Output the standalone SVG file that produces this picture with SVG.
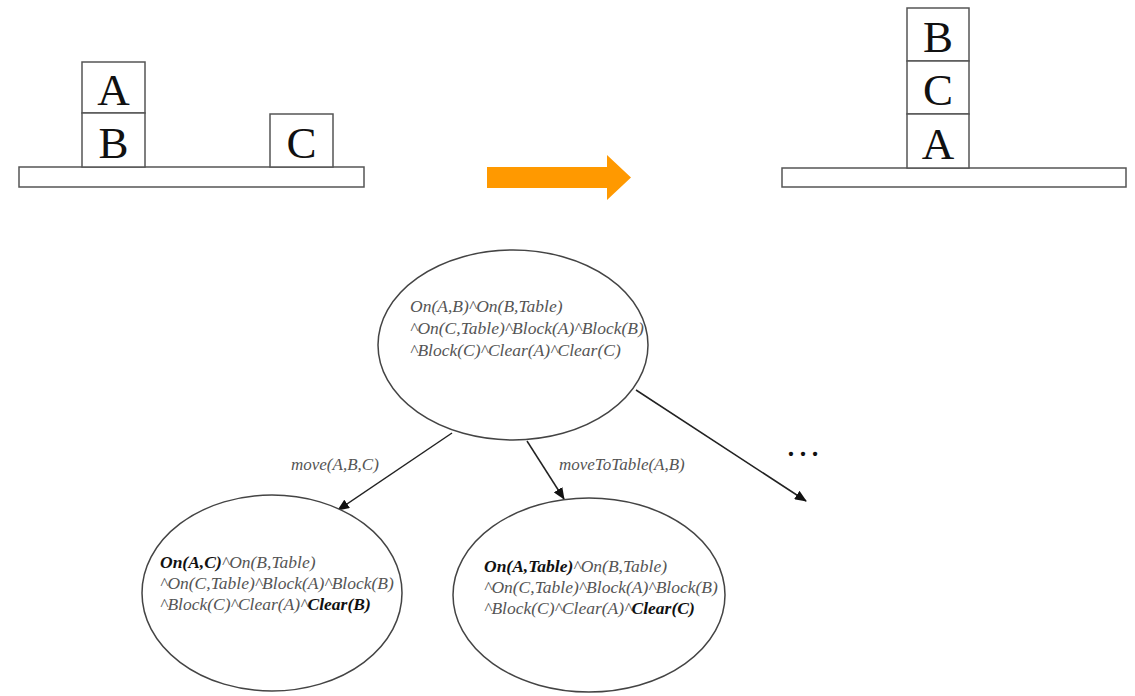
<svg xmlns="http://www.w3.org/2000/svg" width="1135" height="696" viewBox="0 0 1135 696">
<style>
.blk{fill:#fff;stroke:#555;stroke-width:1.5}
.tbl{fill:#fff;stroke:#555;stroke-width:1.5}
.bl{font-family:"Liberation Serif",serif;font-size:45px;fill:#111;text-anchor:middle}
.ell{fill:#fff;stroke:#444;stroke-width:1.5}
.st{font-family:"Liberation Serif",serif;font-style:italic;font-size:17.5px;fill:#555}
.b{font-weight:bold;fill:#111}
.lbl{font-family:"Liberation Serif",serif;font-style:italic;font-size:17px;fill:#555}
.edge{stroke:#222;stroke-width:1.5;fill:none;marker-end:url(#ah)}
</style>
<defs>
<marker id="ah" markerWidth="12" markerHeight="10" refX="11" refY="5" orient="auto" markerUnits="userSpaceOnUse">
<path d="M0,0 L12,5 L0,10 Z" fill="#111"/>
</marker>
</defs>
<rect width="1135" height="696" fill="#fff"/>
<g id="initial-state">
<rect class="tbl" x="19" y="167" width="345" height="20"/>
<rect class="blk" x="82" y="62" width="63" height="51"/>
<text class="bl" x="113.5" y="105">A</text>
<rect class="blk" x="82" y="113" width="63" height="54"/>
<text class="bl" x="113.5" y="158">B</text>
<rect class="blk" x="270" y="114" width="63" height="53"/>
<text class="bl" x="301.5" y="158">C</text>
</g>
<g id="transition-arrow">
<path d="M487,167 L607,167 L607,155 L631,177.5 L607,200 L607,188 L487,188 Z" fill="#FF9900"/>
</g>
<g id="goal-state">
<rect class="tbl" x="782" y="168" width="344" height="19"/>
<rect class="blk" x="907" y="8" width="62" height="53"/>
<text class="bl" x="938" y="52">B</text>
<rect class="blk" x="907" y="61" width="62" height="53"/>
<text class="bl" x="938" y="105">C</text>
<rect class="blk" x="907" y="114" width="62" height="54"/>
<text class="bl" x="938" y="159">A</text>
</g>
<g id="connectors">
<line class="edge" x1="452" y1="433" x2="338" y2="510"/>
<line class="edge" x1="527" y1="441" x2="564" y2="499"/>
<line class="edge" x1="636" y1="390" x2="806" y2="501"/>
<text class="lbl" x="291" y="470">move(A,B,C)</text>
<text class="lbl" x="559" y="470">moveToTable(A,B)</text>
<text x="785" y="456" font-family="Liberation Serif,serif" font-size="36px" fill="#111">…</text>
</g>
<g id="root-node">
<ellipse class="ell" cx="513" cy="345" rx="135" ry="95"/>
<text class="st" x="410" y="312">On(A,B)^On(B,Table)</text>
<text class="st" x="410" y="334">^On(C,Table)^Block(A)^Block(B)</text>
<text class="st" x="410" y="356">^Block(C)^Clear(A)^Clear(C)</text>
</g>
<g id="child-move">
<ellipse class="ell" cx="272" cy="593" rx="130" ry="98"/>
<text class="st" x="160" y="568"><tspan class="b">On(A,C)</tspan>^On(B,Table)</text>
<text class="st" x="160" y="589">^On(C,Table)^Block(A)^Block(B)</text>
<text class="st" x="160" y="610">^Block(C)^Clear(A)^<tspan class="b">Clear(B)</tspan></text>
</g>
<g id="child-movetotable">
<ellipse class="ell" cx="589" cy="595" rx="136" ry="97"/>
<text class="st" x="484" y="572"><tspan class="b">On(A,Table)</tspan>^On(B,Table)</text>
<text class="st" x="484" y="593">^On(C,Table)^Block(A)^Block(B)</text>
<text class="st" x="484" y="614">^Block(C)^Clear(A)^<tspan class="b">Clear(C)</tspan></text>
</g>
</svg>
